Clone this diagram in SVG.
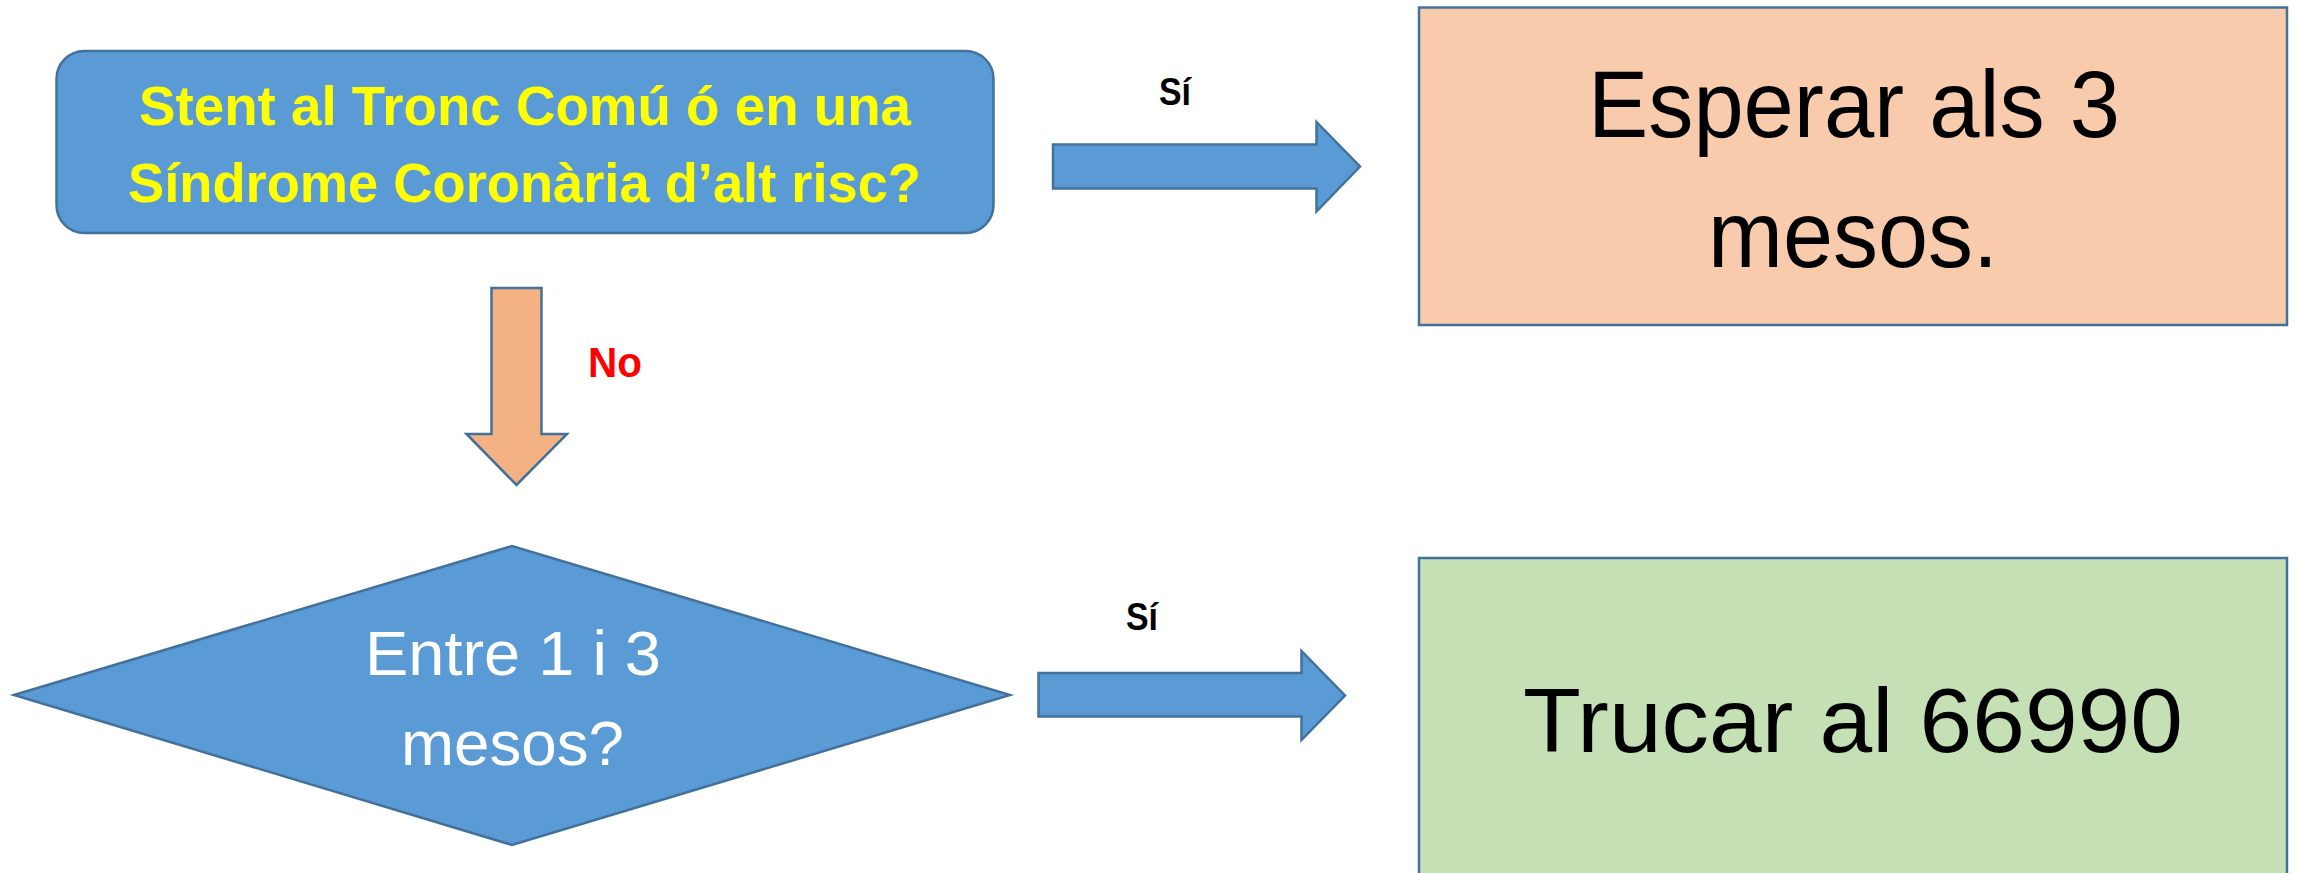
<svg xmlns="http://www.w3.org/2000/svg" width="2300" height="873" viewBox="0 0 2300 873">
<style>
.shape{stroke:#41719C;stroke-width:2.5;stroke-linejoin:miter}
.blue{fill:#5B9BD5}
.orange{fill:#F4B183}
.peach{fill:#F8CBAD}
.green{fill:#C5E0B4}
text{font-family:"Liberation Sans",Arial,sans-serif;text-anchor:middle}
.q{font-weight:bold;fill:#FFFF00;font-size:56px}
.w{fill:#FFFFFF;font-size:63px}
.big{fill:#000000;font-size:94px}
.lbl{font-weight:bold;font-size:38px;fill:#000000}
.no{font-weight:bold;font-size:42px;fill:#FF0000}
</style>
<rect width="2300" height="873" fill="#FFFFFF"/>
<g id="connectors">
  <polygon class="shape blue" points="1053,144.5 1316.5,144.5 1316.5,122 1360,166.5 1316.5,211.5 1316.5,188.5 1053,188.5"/>
  <text class="lbl" x="1175" y="105" textLength="32" lengthAdjust="spacingAndGlyphs">Sí</text>
  <polygon class="shape orange" points="491.5,288 541.5,288 541.5,434 567,434 516.5,485 466.5,434 491.5,434"/>
  <text class="no" x="615" y="377" textLength="54" lengthAdjust="spacingAndGlyphs">No</text>
  <polygon class="shape blue" points="1038.5,673 1301.5,673 1301.5,651 1345,695.5 1301.5,740 1301.5,716.5 1038.5,716.5"/>
  <text class="lbl" x="1142" y="630" textLength="32" lengthAdjust="spacingAndGlyphs">Sí</text>
</g>
<g id="node-question1">
  <rect class="shape blue" x="56.5" y="51" width="937" height="182" rx="28" ry="28"/>
  <text class="q" x="525" y="125" textLength="772" lengthAdjust="spacingAndGlyphs">Stent al Tronc Comú ó en una</text>
  <text class="q" x="524.5" y="202" textLength="793" lengthAdjust="spacingAndGlyphs">Síndrome Coronària d’alt risc?</text>
</g>
<g id="node-question2">
  <polygon class="shape blue" points="14,695 512,546 1010,695 512,845"/>
  <text class="w" x="513" y="675" textLength="296" lengthAdjust="spacingAndGlyphs">Entre 1 i 3</text>
  <text class="w" x="512.5" y="765" textLength="223" lengthAdjust="spacingAndGlyphs">mesos?</text>
</g>
<g id="node-wait">
  <rect class="shape peach" x="1419" y="7.5" width="868" height="317.5"/>
  <text class="big" x="1854" y="137" textLength="532" lengthAdjust="spacingAndGlyphs">Esperar als 3</text>
  <text class="big" x="1853" y="267" textLength="290" lengthAdjust="spacingAndGlyphs">mesos.</text>
</g>
<g id="node-call">
  <rect class="shape green" x="1419" y="558" width="868" height="330"/>
  <text class="big" x="1853" y="752" font-size="91" style="font-size:91px" textLength="660" lengthAdjust="spacingAndGlyphs">Trucar al 66990</text>
</g>
</svg>
